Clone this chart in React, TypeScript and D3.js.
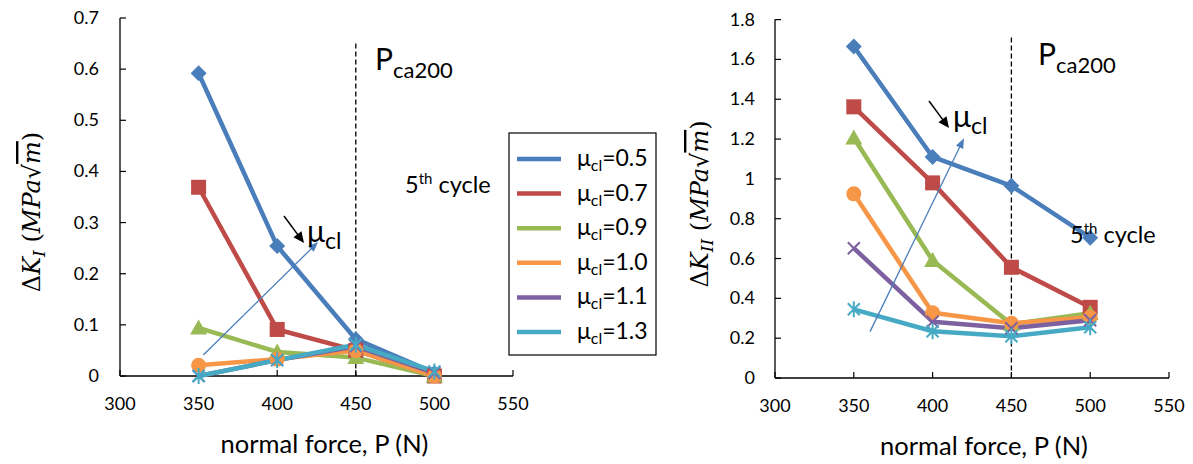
import React from "react";
import * as d3 from "d3";

const P = [350, 400, 450, 500];
const muLabels = ["0.5", "0.7", "0.9", "1.0", "1.1", "1.3"];
const colors = ["#4a7ebb", "#be4b48", "#98b954", "#f79646", "#7d60a0", "#46aac5"];
const markers = ["diamond", "square", "triangle", "circle", "x", "star"];

const kI_05 = [0.592, 0.254, 0.072, 0.006];
const kI_07 = [0.369, 0.091, 0.05, 0.0];
const kI_09 = [0.094, 0.047, 0.036, 0.0];
const kI_10 = [0.021, 0.033, 0.05, 0.0];
const kI_11 = [0.0, 0.031, 0.058, 0.006];
const kI_13 = [0.0, 0.031, 0.061, 0.009];

const kII_05 = [1.665, 1.11, 0.965, 0.705];
const kII_07 = [1.362, 0.98, 0.556, 0.355];
const kII_09 = [1.205, 0.59, 0.27, 0.325];
const kII_10 = [0.925, 0.328, 0.275, 0.305];
const kII_11 = [0.652, 0.283, 0.25, 0.29];
const kII_13 = [0.345, 0.235, 0.21, 0.255];

const xTicks = [300, 350, 400, 450, 500, 550];
const yTicksI = [0, 0.1, 0.2, 0.3, 0.4, 0.5, 0.6, 0.7];
const yTicksII = [0, 0.2, 0.4, 0.6, 0.8, 1.0, 1.2, 1.4, 1.6, 1.8];

const FONT = "Lato, 'Open Sans', sans-serif";
const MATH = "'DejaVu Serif', 'Liberation Serif', serif";

function Marker({ type, x, y, color }: { type: string; x: number; y: number; color: string }) {
  const s = 8;
  if (type === "diamond")
    return <path d={`M${x},${y - s}L${x + s},${y}L${x},${y + s}L${x - s},${y}Z`} fill={color} />;
  if (type === "square") return <rect x={x - 7.5} y={y - 7.5} width={15} height={15} fill={color} />;
  if (type === "triangle")
    return <path d={`M${x},${y - 8.5}L${x + 8.5},${y + 6.5}L${x - 8.5},${y + 6.5}Z`} fill={color} />;
  if (type === "circle") return <circle cx={x} cy={y} r={7.5} fill={color} />;
  if (type === "x")
    return (
      <path d={`M${x - 6},${y - 6}L${x + 6},${y + 6}M${x - 6},${y + 6}L${x + 6},${y - 6}`} stroke={color} strokeWidth={2} />
    );
  return (
    <path
      d={`M${x - 6},${y - 6}L${x + 6},${y + 6}M${x - 6},${y + 6}L${x + 6},${y - 6}M${x},${y - 8}L${x},${y + 8}`}
      stroke={color}
      strokeWidth={2}
    />
  );
}

function MuText({ x, y, size, sub, rest }: { x: number; y: number; size: number; sub: number; rest?: string }) {
  return (
    <text x={x} y={y} fontFamily={FONT} fontSize={size} fill="#000">
      μ
      <tspan fontSize={sub} dy={size * 0.22}>cl</tspan>
      {rest ? <tspan dy={-size * 0.22}>{rest}</tspan> : null}
    </text>
  );
}

function Chart({
  series,
  yTicks,
  x0,
  x1,
  yBottom,
  yTop,
  yMax,
  labelSub,
  labelX,
  labelY,
  tickGap,
  blueArrow,
  blackArrow,
  muPos,
  pcaPos,
  cyclePos,
  dashTop,
  yFmt,
  titleOff,
}: any) {
  const xs = d3.scaleLinear().domain([300, 550]).range([x0, x1]);
  const ys = d3.scaleLinear().domain([0, yMax]).range([yBottom, yTop]);
  const line = d3
    .line<number>()
    .x((_, i) => xs(P[i]))
    .y((d) => ys(d));
  const [bx0, by0, bx1, by1] = [xs(blueArrow[0]), ys(blueArrow[1]), xs(blueArrow[2]), ys(blueArrow[3])];
  const ang = Math.atan2(by1 - by0, bx1 - bx0);
  const head = (x: number, y: number, a: number, len: number, w: number) =>
    `M${x},${y}L${x - len * Math.cos(a) + w * Math.sin(a)},${y - len * Math.sin(a) - w * Math.cos(a)}L${
      x - len * Math.cos(a) - w * Math.sin(a)
    },${y - len * Math.sin(a) + w * Math.cos(a)}Z`;
  const [kx0, ky0, kx1, ky1] = blackArrow;
  const kang = Math.atan2(ky1 - ky0, kx1 - kx0);
  return (
    <g>
      {/* axes */}
      <line x1={x0} y1={yBottom} x2={x1} y2={yBottom} stroke="#000" strokeWidth={1.3} />
      <line x1={x0} y1={yBottom} x2={x0} y2={ys(yMax)} stroke="#000" strokeWidth={1.3} />
      {xTicks.map((t) => (
        <g key={"xt" + t}>
          <line x1={xs(t)} x2={xs(t)} y1={yBottom} y2={yBottom - 6} stroke="#000" strokeWidth={1.2} />
          <text x={xs(t)} y={yBottom + 34} textAnchor="middle" fontFamily={FONT} fontSize={18} fill="#000">
            {t}
          </text>
        </g>
      ))}
      {yTicks.map((t: number) => (
        <g key={"yt" + t}>
          <line x1={x0} x2={x0 + 6} y1={ys(t)} y2={ys(t)} stroke="#000" strokeWidth={1.2} />
          <text x={x0 - tickGap} y={ys(t) + 6} textAnchor="end" fontFamily={FONT} fontSize={18} fill="#000">
            {yFmt(t)}
          </text>
        </g>
      ))}
      <text x={(x0 + x1) / 2 + titleOff} y={yBottom + 77} textAnchor="middle" fontFamily={FONT} fontSize={25.5} fill="#000">
        normal force, P (N)
      </text>
      <g transform={`translate(${labelX},${labelY}) rotate(-90)`}>
        <text x={0} y={0} textAnchor="middle" fontFamily={MATH} fontSize={24} fill="#000">
          <tspan>Δ</tspan>
          <tspan fontStyle="italic">K</tspan>
          <tspan fontStyle="italic" fontSize={17} dy={5}>
            {labelSub}
          </tspan>
          <tspan dy={-5}> (</tspan>
          <tspan fontStyle="italic">MPa</tspan>
          <tspan>√</tspan>
          <tspan fontStyle="italic" style={{ textDecoration: "overline" }}>
            m
          </tspan>
          <tspan>)</tspan>
        </text>
      </g>
      {/* dashed line */}
      <line x1={xs(450)} x2={xs(450)} y1={ys(dashTop)} y2={yBottom} stroke="#000" strokeWidth={1.3} strokeDasharray="5,3" />
      {/* series */}
      {series.map((d: number[], i: number) => (
        <path key={"l" + i} d={line(d) || ""} fill="none" stroke={colors[i]} strokeWidth={4.5} strokeLinejoin="round" />
      ))}
      {series.map((d: number[], i: number) =>
        d.map((v, j) => <Marker key={`m${i}-${j}`} type={markers[i]} x={xs(P[j])} y={ys(v)} color={colors[i]} />)
      )}
      {/* blue arrow */}
      <line x1={bx0} y1={by0} x2={bx1 - 8 * Math.cos(ang)} y2={by1 - 8 * Math.sin(ang)} stroke="#4a7ebb" strokeWidth={1.3} />
      <path d={head(bx1, by1, ang, 10, 4)} fill="#4a7ebb" />
      {/* black arrow */}
      <line x1={kx0} y1={ky0} x2={kx1 - 8 * Math.cos(kang)} y2={ky1 - 8 * Math.sin(kang)} stroke="#000" strokeWidth={1.5} />
      <path d={head(kx1, ky1, kang, 11, 5)} fill="#000" />
      <MuText x={muPos[0]} y={muPos[1]} size={30} sub={23} />
      <text x={pcaPos[0]} y={pcaPos[1]} fontFamily={FONT} fontSize={30} fill="#000">
        P<tspan fontSize={22} dy={8}>ca200</tspan>
      </text>
      <text x={cyclePos[0]} y={cyclePos[1]} fontFamily={FONT} fontSize={23.5} fill="#000">
        5<tspan fontSize={15} dy={-9}>th</tspan>
        <tspan dy={9}> cycle</tspan>
      </text>
    </g>
  );
}

export default function App() {
  const seriesI = [kI_05, kI_07, kI_09, kI_10, kI_11, kI_13];
  const seriesII = [kII_05, kII_07, kII_09, kII_10, kII_11, kII_13];
  const legX = 509,
    legY = 133;
  return (
    <svg width={1193} height={464} style={{ position: "absolute", left: 0, top: 0, background: "#fff" }}>
      <rect width={1193} height={464} fill="#fff" />
      <Chart
        series={seriesI}
        yTicks={yTicksI}
        x0={120}
        x1={513}
        yBottom={376}
        yTop={18}
        yMax={0.7}
        labelSub="I"
        labelX={40}
        labelY={212}
        tickGap={21}
        blueArrow={[353, 0.041, 426, 0.262]}
        blackArrow={[284, 216, 304, 243]}
        muPos={[307, 242]}
        pcaPos={[375, 70]}
        cyclePos={[405, 193]}
        dashTop={0.65}
        titleOff={8}
        yFmt={(t: number) => (t === 0 ? "0" : t.toFixed(1))}
      />
      <Chart
        series={seriesII}
        yTicks={yTicksII}
        x0={775}
        x1={1169}
        yBottom={378}
        yTop={19.6}
        yMax={1.8}
        labelSub="II"
        labelX={708}
        labelY={204}
        tickGap={20}
        blueArrow={[360.3, 0.233, 419.9, 1.204]}
        blackArrow={[929, 101, 949, 128]}
        muPos={[953, 127]}
        pcaPos={[1038, 65]}
        cyclePos={[1070, 243]}
        dashTop={1.71}
        titleOff={12}
        yFmt={(t: number) => (t === 0 ? "0" : t === 1 ? "1" : String(+t.toFixed(1)))}
      />
      {/* legend */}
      <rect x={legX} y={legY} width={147} height={222} fill="#fff" stroke="#000" strokeWidth={1.2} />
      {muLabels.map((m, i) => {
        const yy = legY + 26 + i * 34.6;
        return (
          <g key={"lg" + i}>
            <line x1={legX + 8} x2={legX + 52} y1={yy} y2={yy} stroke={colors[i]} strokeWidth={4.5} />
            <MuText x={legX + 68} y={yy + 7} size={23} sub={16} rest={"=" + m} />
          </g>
        );
      })}
    </svg>
  );
}
